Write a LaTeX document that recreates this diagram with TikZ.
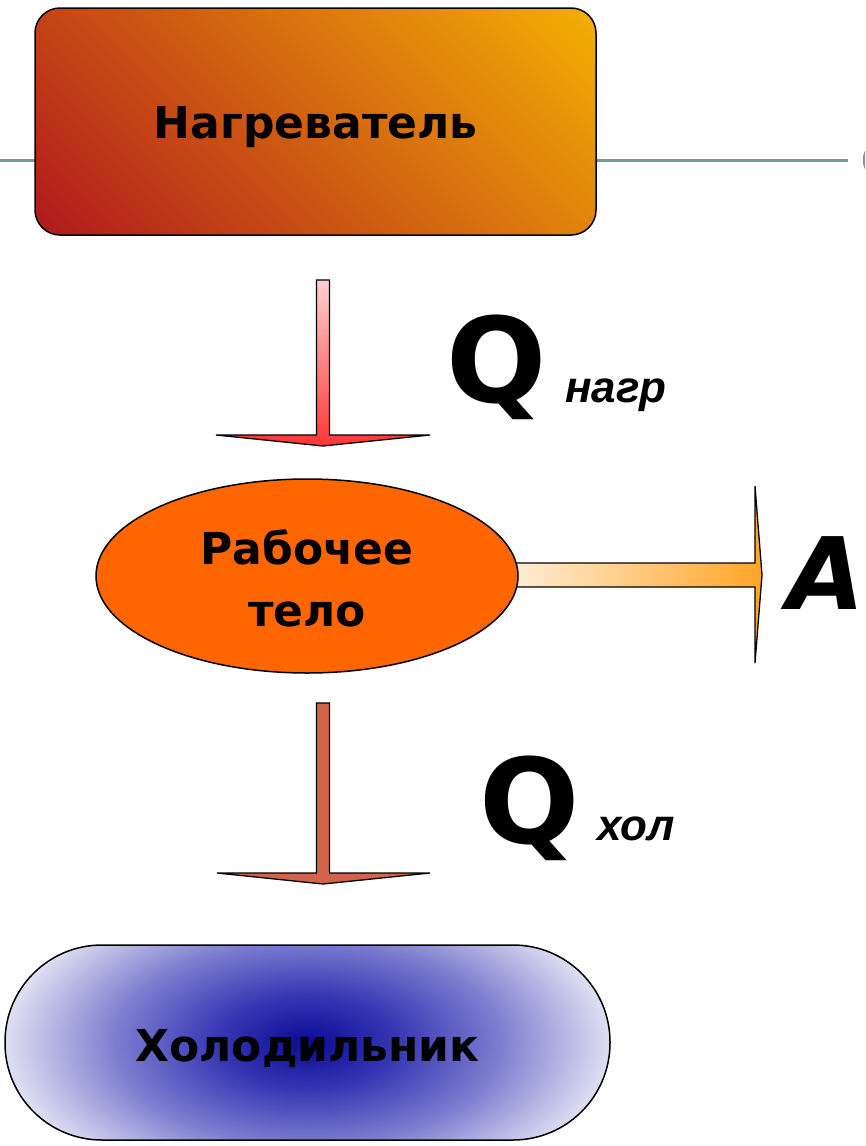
\documentclass[tikz,border=0pt]{standalone}
\usepackage{fontspec}
\setmainfont{DejaVu Sans}
\newfontfamily\subfont{Liberation Sans}
\usetikzlibrary{shapes.geometric}

\definecolor{rulecol}{HTML}{7A9A9A}
\definecolor{hotA}{HTML}{A50021}
\definecolor{hotB}{HTML}{D2640F}
\definecolor{hotC}{HTML}{FFC800}
\definecolor{inTop}{HTML}{FFD0D0}
\definecolor{inBot}{HTML}{FF3535}
\definecolor{outFill}{RGB}{210,100,75}
\definecolor{workL}{HTML}{FFF0DC}
\definecolor{workR}{HTML}{FFA525}
\definecolor{bodyFill}{HTML}{FF6600}
\definecolor{coolA}{RGB}{10,10,150}
\definecolor{coolB}{RGB}{55,55,180}
\definecolor{coolC}{RGB}{125,125,208}
\definecolor{coolD}{RGB}{238,238,248}

\pgfdeclareradialshading{coolfill}{\pgfpoint{0bp}{0bp}}{%
  color(0bp)=(coolA); color(7bp)=(coolB); color(15bp)=(coolC);
  color(25bp)=(coolD); color(50bp)=(coolD); color(100bp)=(coolD)}

\tikzset{
  outline/.style={draw=black, line width=1.5pt},
  boxlabel/.style={font=\fontsize{44}{62}\selectfont\bfseries, align=center},
  bigq/.style={font=\fontsize{118}{118}\selectfont\bfseries, inner sep=0pt, anchor=base},
  qsub/.style={font=\fontsize{44}{44}\selectfont\subfont\bfseries\itshape, inner sep=0pt, anchor=base west},
  blockarrow/.style={draw=black, line width=1.3pt, line join=miter},
}

\begin{document}
\begin{tikzpicture}[x=1pt, y=-1pt]
\useasboundingbox (0,0) rectangle (865,1146);
\clip (0,0) rectangle (865,1146);

% slide rule line and the circle at its right end
\coordinate (ruleL) at (0,160);
\coordinate (ruleR) at (848,160);
\draw[rulecol, line width=3pt] (ruleL) -- (ruleR);
\draw[rulecol, line width=2.5pt] (884,160) circle [radius=20];

% heater: diagonal gradient, dark red (lower left) to yellow (upper right);
% the shaded square (node-local coordinates) is sized so the end colours
% reach the box corners
\node[outline, rectangle, rounded corners=25pt, minimum width=561pt, minimum height=227pt,
      path picture={
        \shade[bottom color=hotA, middle color=hotB, top color=hotC, shading angle=-45]
          (-370,-370) rectangle (370,370);}]
  (heater) at (315.5,121.5) {};
\node[boxlabel] (heaterlabel) at ([yshift=-6pt]heater.center) {Нагреватель};

% heat flow from the heater
\path[blockarrow, top color=inTop, bottom color=inBot]
  (316.5,280) -- (329.5,280) -- (329.5,435) -- (430,435) -- (323,446)
  -- (216,435) -- (316.5,435) -- cycle;

% work output arrow (drawn under the working body)
\path[blockarrow, left color=workL, right color=workR]
  (505,563) -- (755,563) -- (755,486) -- (762,575) -- (755,663)
  -- (755,587) -- (505,587) -- cycle;

% working body
\node[outline, ellipse, fill=bodyFill, minimum width=422pt, minimum height=194pt,
      inner sep=0pt] (body) at (307,576) {};
\node[boxlabel] (bodylabel) at ([yshift=-2pt]body.center) {Рабочее\\тело};

% heat flow to the cooler
\path[blockarrow, fill=outFill]
  (316.5,703) -- (329.5,703) -- (329.5,873) -- (430,873) -- (323,884)
  -- (217,873) -- (316.5,873) -- cycle;

% cooler
\node[outline, rectangle, rounded corners=97pt, minimum width=605pt, minimum height=195pt,
      path picture={\shade[shading=coolfill] (path picture bounding box.center)
        ellipse [x radius=320pt, y radius=170pt];}]
  (cooler) at (307.5,1042.5) {};
\node[boxlabel] (coolerlabel) at ([yshift=-6pt]cooler.center) {Холодильник};

% labels
\node[bigq] (qin) at (497,402) {Q};
\node[qsub] (qinsub) at (565,402) {нагр};
\node[bigq] (qout) at (530,843) {Q};
\node[qsub] (qoutsub) at (597,840) {хол};
\node[font=\fontsize{100}{100}\selectfont\bfseries\itshape, inner sep=0pt, anchor=base]
  (work) at (826,609) {A};
\end{tikzpicture}
\end{document}
